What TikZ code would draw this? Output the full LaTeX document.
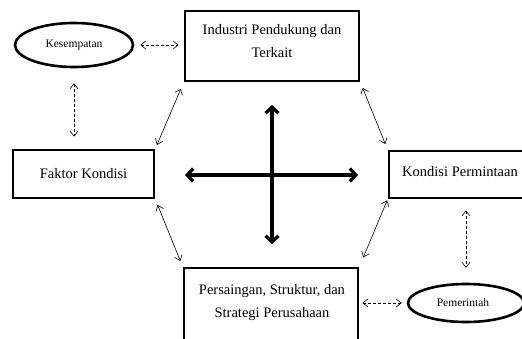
\documentclass[tikz,border=0pt]{standalone}
\usepackage{fontspec}
\setmainfont{Liberation Serif}
\usetikzlibrary{arrows.meta,calc,shapes.geometric}
\begin{document}
\begin{tikzpicture}[x=1pt,y=-1pt,
  box/.style={draw,line width=2.8pt,rectangle,inner sep=0pt},
  oval/.style={draw,line width=2.6pt,ellipse,inner sep=0pt},
  lbl/.style={font=\fontsize{14.5}{23}\selectfont,align=center,inner sep=0pt},
  small/.style={font=\fontsize{11.5}{14}\selectfont,inner sep=0pt},
  rel/.style={line width=0.6pt,{Straight Barb[length=5pt,width=8pt]}-{Straight Barb[length=5pt,width=8pt]}},
  dashrel/.style={rel,dash pattern=on 3pt off 2pt},
  force/.style={line width=3.2pt,{Straight Barb[length=6pt,width=13pt]}-{Straight Barb[length=6pt,width=13pt]}}
]
\useasboundingbox (0,0) rectangle (522,338);
\clip (0,0) rectangle (522,338);

% boxes
\node[box,minimum width=174pt,minimum height=70pt] (ind) at (272,46) {};
\node[box,minimum width=141pt,minimum height=48pt] (fk) at (83.5,174) {};
\node[box,minimum width=151pt,minimum height=47pt] (kp) at (464.5,174.5) {};
\node[box,minimum width=174pt,minimum height=82pt] (ps) at (271,309) {};
\node[oval,minimum width=118pt,minimum height=44pt] (kes) at (74,45) {};
\node[oval,minimum width=116pt,minimum height=38pt] (pem) at (466,303) {};

% texts
\node[lbl] (indt) at (272,41.5) {Industri Pendukung dan\\Terkait};
\node[lbl] (fkt) at (83.5,174) {Faktor Kondisi};
\node[lbl] (kpt) at (460,172) {Kondisi Permintaan};
\node[lbl] (pst) at (272,302.5) {Persaingan, Struktur, dan\\Strategi Perusahaan};
\node[small] (kest) at (74,45) {Kesempatan};
\node[small] (pemt) at (463,303) {Pemerintah};

% solid relations
\draw[rel,shorten <=4pt,shorten >=7pt] (fk.north east) -- (ind.south west);
\draw[rel,shorten <=6pt,shorten >=6pt] (ind.south east) -- (kp.north west);
\draw[rel,shorten <=6pt,shorten >=6pt] (fk.south east) -- (ps.north west);
\draw[rel,shorten <=1pt,shorten >=10pt] (kp.south west) -- (ps.north east);

% dashed relations
\draw[dashrel,shorten <=6pt,shorten >=5pt] (kes.east) -- (kes.east -| ind.west);
\draw[dashrel,shorten <=15pt,shorten >=12pt] (kes.south) -- (kes.south |- fk.north);
\draw[dashrel,shorten <=11pt,shorten >=15pt] (pem.north |- kp.south) -- (pem.north);
\draw[dashrel,shorten <=3pt,shorten >=5pt] (ps.east |- pem.west) -- (pem.west);

% central cross
\coordinate (ctop) at (272,105);
\coordinate (cbot) at (272,244);
\coordinate (cleft) at (185,175);
\coordinate (cright) at (358,175);
\draw[force] (ctop) -- (cbot);
\draw[force] (cleft) -- (cright);
\end{tikzpicture}
\end{document}
